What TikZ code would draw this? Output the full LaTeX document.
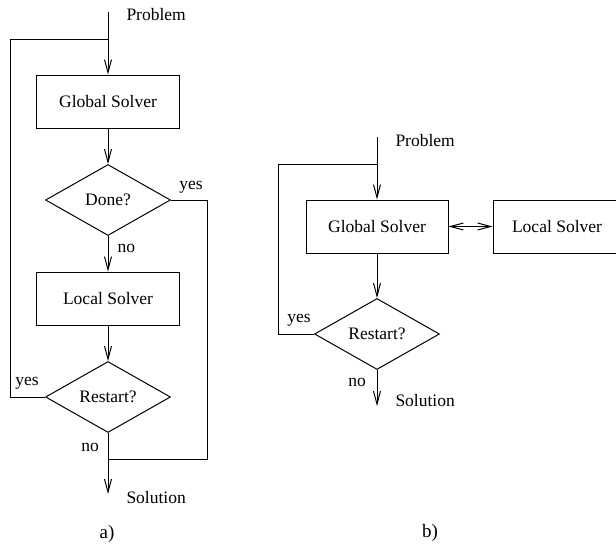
\documentclass[tikz,border=0pt]{standalone}
\usepackage{fontspec}
\setmainfont{Liberation Serif}
\usetikzlibrary{shapes.geometric,arrows.meta}
\begin{document}
\begin{tikzpicture}[x=1pt,y=-1pt, line width=1pt,
  font=\fontsize{17.5}{21}\selectfont,
  box/.style={draw, rectangle, minimum width=143pt, minimum height=53pt, inner sep=0pt},
  dia/.style={draw, diamond, minimum width=125pt, minimum height=71pt, inner sep=0pt, aspect=1.76},
  txt/.style={inner sep=0pt},
  arr/.style={-{Straight Barb[length=13pt,width=7pt]}},
  darr/.style={{Straight Barb[length=13pt,width=7pt]}-{Straight Barb[length=13pt,width=7pt]}},
  captxt/.style={inner sep=0pt, font=\fontsize{19}{22}\selectfont}]
\useasboundingbox (0,0) rectangle (616,544);
% ---------- a) ----------
\coordinate (pa) at (108,12);
\coordinate (la) at (108,39);
\coordinate (lca) at (10,39);
\coordinate (lda) at (10,397);
\node[box] (ga) at (108,101.5) {Global Solver};
\node[dia] (da) at (108,200) {Done?};
\node[box] (lsa) at (108,298.5) {Local Solver};
\node[dia] (ra) at (108,397) {Restart?};
\coordinate (yca) at (207,200);
\coordinate (yda) at (207,459);
\coordinate (ja) at (108,459);
\coordinate (ea) at (108,494);
\draw (pa) -- (la);
\draw[arr] (la) -- (ga.north);
\draw (ra.west) -- (lda) -- (lca) -- (la);
\draw[arr] (ga.south) -- (da.north);
\draw (da.east) -- (yca) -- (yda) -- (ja);
\draw[arr] (da.south) -- (lsa.north);
\draw[arr] (lsa.south) -- (ra.north);
\draw[arr] (ra.south) -- (ea);
\node[txt, anchor=west] (tpa) at (126,15) {Problem};
\node[txt] (tya) at (191,187) {yes};
\node[txt, anchor=west] (tna) at (117,248) {no};
\node[txt] (tyra) at (27,383) {yes};
\node[txt] (tnra) at (90,447) {no};
\node[txt, anchor=west] (tsa) at (126,498) {Solution};
\node[captxt] (capa) at (107,534) {a)};
% ---------- b) ----------
\coordinate (pb) at (377,137);
\coordinate (lb) at (377,164);
\coordinate (lcb) at (278,164);
\coordinate (ldb) at (278,334);
\node[box, minimum width=142pt] (gb) at (377,226.5) {Global Solver};
\node[box] (lsb) at (564.5,226.5) {\hspace*{-15pt}Local Solver};
\node[dia] (rb) at (377,334) {Restart?};
\coordinate (eb) at (377,406);
\draw (pb) -- (lb);
\draw[arr] (lb) -- (gb.north);
\draw (rb.west) -- (ldb) -- (lcb) -- (lb);
\draw[darr] (gb.east) -- (lsb.west);
\draw[arr] (gb.south) -- (rb.north);
\draw[arr] (rb.south) -- (eb);
\node[txt, anchor=west] (tpb) at (395,141) {Problem};
\node[txt] (tyb) at (299,320) {yes};
\node[txt] (tnb) at (357,382) {no};
\node[txt, anchor=west] (tsb) at (395,401) {Solution};
\node[captxt] (capb) at (430,533) {b)};
\end{tikzpicture}
\end{document}
